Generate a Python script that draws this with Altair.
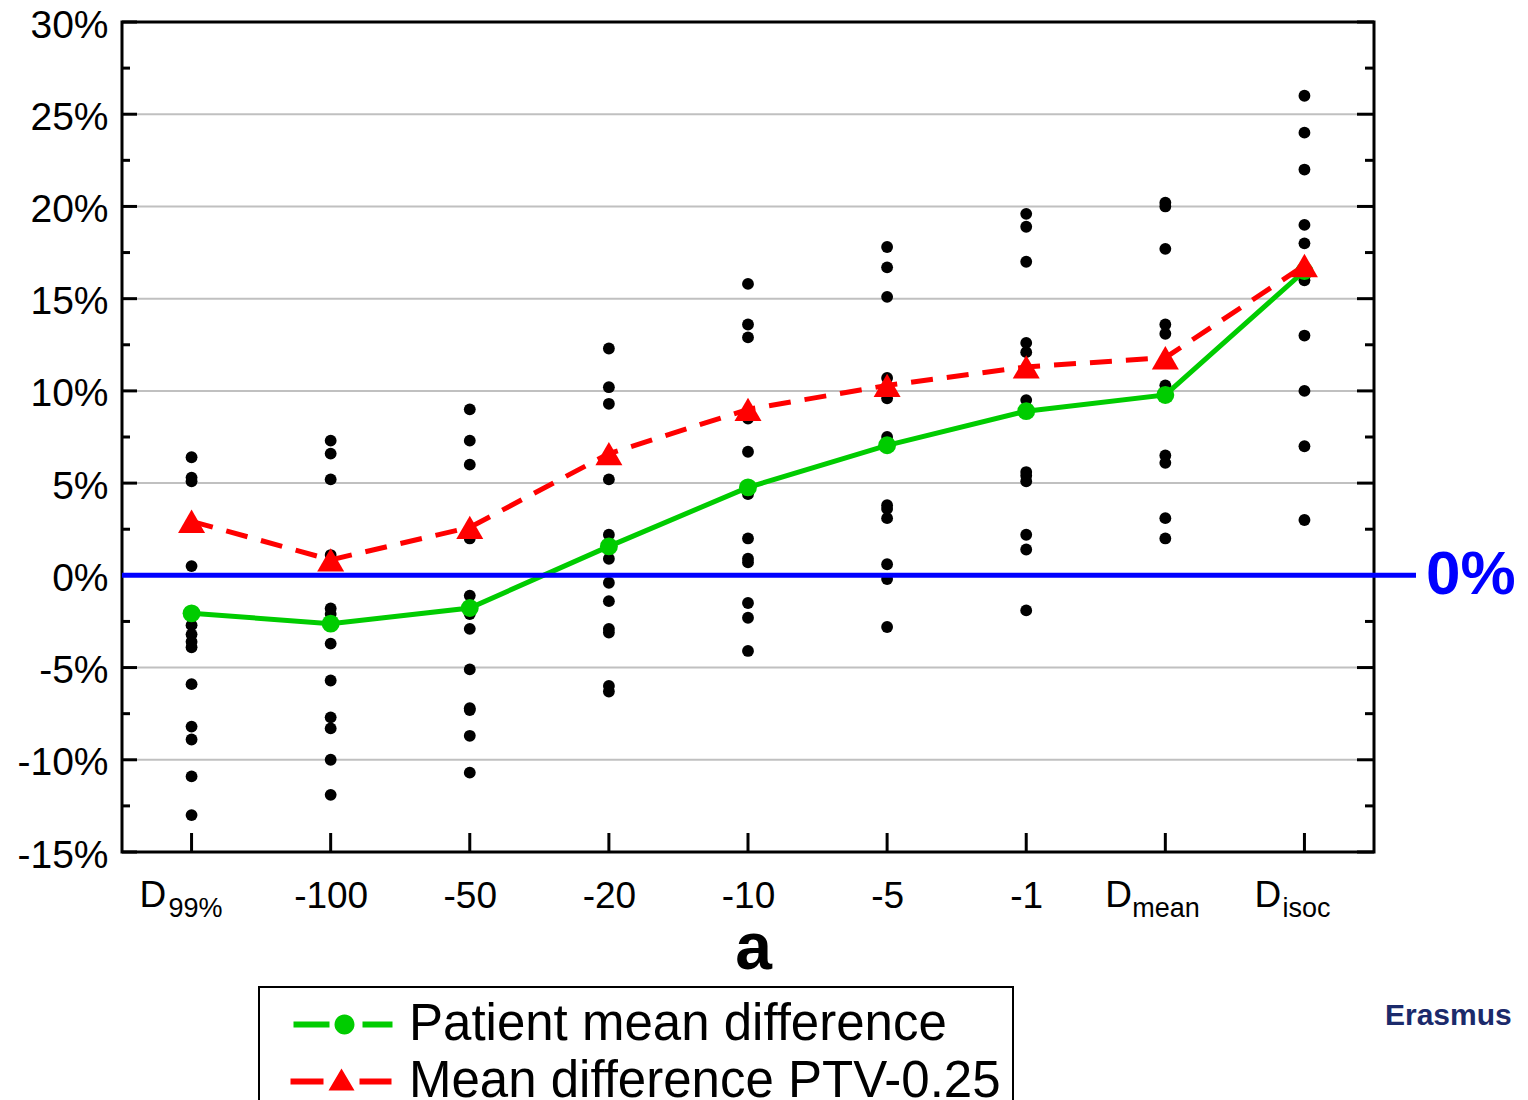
import altair as alt
import pandas as pd

# ---------------- data ----------------
categories = ["D99%", "-100", "-50", "-20", "-10", "-5", "-1", "Dmean", "Disoc"]

vals_d99 = [6.4, 5.3, 5.1, 0.5, -2.7, -3.2, -3.6, -3.9, -5.9, -8.2, -8.9, -10.9, -13.0]
vals_m100 = [7.3, 6.6, 5.2, 1.1, -1.8, -2.1, -3.7, -5.7, -7.7, -8.3, -10.0, -11.9]
vals_m50 = [9.0, 7.3, 6.0, 2.0, -1.1, -2.1, -2.9, -5.1, -7.2, -7.3, -8.7, -10.7]
vals_m20 = [12.3, 10.2, 9.3, 5.2, 2.2, 0.9, -0.4, -1.4, -2.9, -3.1, -6.0, -6.3]
vals_m10 = [15.8, 13.6, 12.9, 8.5, 6.7, 4.4, 2.0, 0.9, 0.7, -1.5, -2.3, -4.1]
vals_m5 = [17.8, 16.7, 15.1, 10.7, 9.6, 7.5, 3.8, 3.6, 3.1, 0.6, -0.2, -2.8]
vals_m1 = [19.6, 18.9, 17.0, 12.6, 12.1, 9.5, 5.6, 5.4, 5.1, 2.2, 1.4, -1.9]
vals_dmean = [20.2, 20.0, 17.7, 13.6, 13.1, 10.3, 6.5, 6.1, 3.1, 2.0]
vals_disoc = [26.0, 24.0, 22.0, 19.0, 18.0, 16.6, 16.0, 13.0, 10.0, 7.0, 3.0]
patient_values = [vals_d99, vals_m100, vals_m50, vals_m20, vals_m10,
                  vals_m5, vals_m1, vals_dmean, vals_disoc]

green_means = [-2.06, -2.62, -1.77, 1.57, 4.77, 7.05, 8.90, 9.78, 16.5]
red_means = [2.93, 0.84, 2.6, 6.6, 9.0, 10.3, 11.3, 11.8, 16.8]
series_names = ["Patient mean difference", "Mean difference PTV-0.25"]

y_labels = [-15, -10, -5, 0, 5, 10, 15, 20, 25, 30]
grid_values = [-10, -5, 5, 10, 15, 20, 25]
major_ticks = [-15, -10, -5, 0, 5, 10, 15, 20, 25, 30]
minor_ticks = [-12.5, -7.5, -2.5, 2.5, 7.5, 12.5, 17.5, 22.5, 27.5]

sub_labels = [("D99%", "D", "99%"), ("Dmean", "D", "mean"), ("Disoc", "D", "isoc")]

# ---------------- style ----------------
W, H = 1252, 830
FONT = "Liberation Sans"
GREEN, RED, BLUE = "#00cc00", "#ff0000", "#0000ff"
sub_dx = {"D99%": (-52, -23), "Dmean": (-60, -33), "Disoc": (-50, -22)}

pat_df = pd.DataFrame(
    [{"cat": c, "value": v} for c, vals in zip(categories, patient_values) for v in vals]
)
means_df = pd.DataFrame(
    [{"cat": c, "value": v, "series": series_names[0], "idx": i}
     for i, (c, v) in enumerate(zip(categories, green_means))]
    + [{"cat": c, "value": v, "series": series_names[1], "idx": i}
       for i, (c, v) in enumerate(zip(categories, red_means))]
)
green_df = means_df[means_df.series == series_names[0]]
red_df = means_df[means_df.series == series_names[1]]

xscale = alt.Scale(type="point", domain=categories, padding=0.5)
yscale = alt.Scale(domain=[-15, 30], nice=False, zero=False)

d_names = ",".join("'" + s[0] + "'" for s in sub_labels)
x_axis = alt.Axis(
    title="a", titleFont=FONT, titleFontSize=66, titleFontWeight="bold", titleColor="black",
    titleBaseline="alphabetic", titleY=116, titleX=631,
    labelExpr=f"indexof([{d_names}], datum.value) >= 0 ? '' : datum.value",
    labelFont=FONT, labelFontSize=37, labelColor="black", labelAngle=0,
    labelBaseline="alphabetic", labelPadding=55, labelOverlap=False,
    domain=False, ticks=False, tickSize=0, grid=False,
)
y_axis = alt.Axis(
    values=y_labels, labelExpr="datum.value + '%'", grid=False, domain=False,
    ticks=False, tickSize=0, labelPadding=14, labelFont=FONT, labelFontSize=39,
    labelColor="black", title=None, labelOverlap=False, labelOffset=3,
)


def X():
    return alt.X("cat:N", scale=xscale, sort=categories, axis=x_axis)


def Y(field="value"):
    return alt.Y(f"{field}:Q", scale=yscale, axis=y_axis)


grid_df = pd.DataFrame({"v": grid_values})
major_df = pd.DataFrame({"v": major_ticks})
minor_df = pd.DataFrame({"v": minor_ticks})
cat_df = pd.DataFrame({"cat": categories})
zero_df = pd.DataFrame({"v": [0]})

grid = alt.Chart(grid_df).mark_rule(color="#c0c0c0", strokeWidth=2).encode(
    y=Y("v"), x=alt.value(15), x2=alt.value(W - 17))
left_major = alt.Chart(major_df).mark_rule(color="black", strokeWidth=3).encode(
    y=Y("v"), x=alt.value(0), x2=alt.value(15))
left_minor = alt.Chart(minor_df).mark_rule(color="black", strokeWidth=3).encode(
    y=Y("v"), x=alt.value(0), x2=alt.value(8))
right_major = alt.Chart(major_df).mark_rule(color="black", strokeWidth=3).encode(
    y=Y("v"), x=alt.value(W - 17), x2=alt.value(W))
right_minor = alt.Chart(minor_df).mark_rule(color="black", strokeWidth=3).encode(
    y=Y("v"), x=alt.value(W - 9), x2=alt.value(W))
bottom_ticks = alt.Chart(cat_df).mark_rule(color="black", strokeWidth=3).encode(
    x=X(), y=alt.value(H - 19), y2=alt.value(H))

dots = alt.Chart(pat_df).mark_circle(size=140, color="black", opacity=1).encode(
    x=X(), y=Y())

green_line = alt.Chart(green_df).mark_line(color=GREEN, strokeWidth=5).encode(
    x=X(), y=Y(), order="idx:Q")
red_line = alt.Chart(red_df).mark_line(color=RED, strokeWidth=5, strokeDash=[22, 14]).encode(
    x=X(), y=Y(), order="idx:Q")

zero_line = alt.Chart(zero_df).mark_rule(color=BLUE, strokeWidth=5).encode(
    y=Y("v"), x=alt.value(0), x2=alt.value(W + 42))
zero_text = alt.Chart(zero_df).mark_text(
    text="0%", font=FONT, fontSize=62, fontWeight="bold", color=BLUE,
    align="left", baseline="middle").encode(y=Y("v"), x=alt.value(W + 52))

green_pts = alt.Chart(green_df).mark_point(
    shape="circle", filled=True, size=320, color=GREEN, opacity=1).encode(x=X(), y=Y())
red_pts = alt.Chart(red_df).mark_point(
    shape="triangle-up", filled=True, size=729, color=RED, opacity=1).encode(x=X(), y=Y())

green_path = ("M-0.3,-0.3H3.3V0.3H-0.3Z M5.8,0A1,1 0 1,1 3.8,0A1,1 0 1,1 5.8,0Z "
              "M6.6,-0.3H9.6V0.3H6.6Z")
red_path = "M-0.6,-0.3H2.7V0.3H-0.6Z M4.5,-1.3L5.8,0.9H3.2Z M6.3,-0.3H9.5V0.3H6.3Z"

legend = alt.Legend(
    orient="none", legendX=137, legendY=965, title=None,
    labelFont=FONT, labelFontSize=51, labelColor="black", labelLimit=2000,
    symbolSize=400, symbolStrokeWidth=0, symbolOpacity=1, labelOffset=87,
    rowPadding=5, padding=12, strokeColor="black",
)
legend_layer = alt.Chart(means_df).mark_point(filled=True, size=400, opacity=0).encode(
    x=X(), y=Y(),
    color=alt.Color("series:N", sort=series_names,
                    scale=alt.Scale(domain=series_names, range=[GREEN, RED]), legend=legend),
    shape=alt.Shape("series:N", sort=series_names,
                    scale=alt.Scale(domain=series_names, range=[green_path, red_path]),
                    legend=legend),
)

label_layers = []
for cat, main, sub in sub_labels:
    one = cat_df[cat_df.cat == cat]
    dxm, dxs = sub_dx[cat]
    label_layers.append(
        alt.Chart(one).mark_text(text=main, font=FONT, fontSize=37, color="black",
                                 align="left", baseline="alphabetic", dx=dxm)
        .encode(x=X(), y=alt.value(885)))
    label_layers.append(
        alt.Chart(one).mark_text(text=sub, font=FONT, fontSize=27, color="black",
                                 align="left", baseline="alphabetic", dx=dxs)
        .encode(x=X(), y=alt.value(895)))

logo = alt.Chart(zero_df).mark_text(
    text="Erasmus", font=FONT, fontSize=30, fontWeight="bold", color="#1b2a6b",
    align="left", baseline="alphabetic").encode(x=alt.value(1263), y=alt.value(1003))

chart = alt.layer(
    grid, left_major, left_minor, right_major, right_minor, bottom_ticks,
    dots, green_line, red_line, zero_line, green_pts, red_pts, legend_layer,
    zero_text, *label_layers, logo,
).properties(
    width=W, height=H,
    autosize=alt.AutoSizeParams(type="none"),
    padding={"left": 114, "top": 14, "right": 145, "bottom": 248},
    background="white",
).configure_view(stroke="black", strokeWidth=3).configure_legend(strokeWidth=2)

chart.save("out.html", embed_options={"renderer": "svg", "actions": False})
